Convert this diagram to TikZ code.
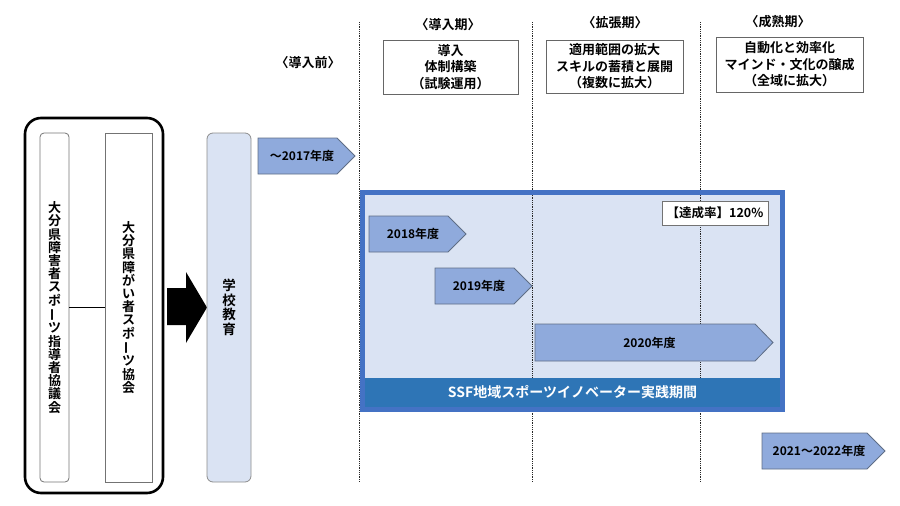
\documentclass[tikz,border=0pt]{standalone}
\usepackage{fontspec}
\setmainfont{Noto Sans CJK JP}[BoldFont={Noto Sans CJK JP Bold}]
\usepackage{graphicx}

\definecolor{barblue}{HTML}{8FAADC}
\definecolor{barline}{HTML}{5F6E86}
\definecolor{paleblue}{HTML}{DAE3F3}
\definecolor{frameblue}{HTML}{4472C4}
\definecolor{bandblue}{HTML}{2E75B6}

\newcommand{\vchoon}{\rotatebox[origin=c]{90}{ー}}
\newcommand{\vfont}{\bfseries\fontsize{13}{13.2}\selectfont}

\tikzset{
  orgbox/.style={draw=black!55, line width=0.8pt, inner sep=0pt, align=center, font=\vfont},
  phasebox/.style={draw=black!60, line width=0.8pt, fill=white, inner sep=0pt, align=center,
    font=\bfseries\fontsize{13}{16.5}\selectfont},
  phaselabel/.style={inner sep=0pt, font=\bfseries\fontsize{13}{15}\selectfont},
  yearbar/.style={draw=barline, fill=barblue, line width=0.8pt},
  yeartext/.style={inner sep=0pt, font=\bfseries\fontsize{12}{14}\selectfont},
  periodline/.style={black!85, line width=0.9pt, dash pattern=on 0.9pt off 0.9pt}
}

% year arrow: name, left, right, top, bottom, text
\newcommand{\yearbar}[6]{%
  \draw[yearbar] (#2,#4) -- (#3-18,#4) -- (#3,{(#4+#5)/2}) -- (#3-18,#5) -- (#2,#5) -- cycle;
  \node[yeartext] (#1) at ({(#2+#3-9)/2},{(#4+#5)/2}) {#6};}

\begin{document}
\begin{tikzpicture}[x=1pt,y=-1pt]
    \useasboundingbox (0,0) rectangle (900,506);

    % Organisations on the left
    \node[draw, line width=2.6pt, rounded corners=16pt, minimum width=138, minimum height=375] (outer) at (94,305.5) {};
    \node[orgbox, rounded corners=4pt, minimum width=29, minimum height=349] (council) at (54.5,307.5)
      {大\\分\\県\\障\\害\\者\\ス\\ポ\\\vchoon\\ツ\\指\\導\\者\\協\\議\\会};
    \node[orgbox, minimum width=47, minimum height=349] (assoc) at (128.5,307.5)
      {大\\分\\県\\障\\が\\い\\者\\ス\\ポ\\\vchoon\\ツ\\協\\会};
    \draw[line width=1.8pt] (council.east) -- (assoc.west);

    % Big arrow into school education
    \fill (167,288) -- (186,288) -- (186,272) -- (207,307.5) -- (186,343) -- (186,325) -- (167,325) -- cycle;
    \node[orgbox, draw=black!45, fill=paleblue, rounded corners=6pt, minimum width=44, minimum height=349,
      font=\bfseries\fontsize{13.5}{14.5}\selectfont] (school) at (229,307.5) {学\\校\\教\\育};

    % Phase headers and boxes
    \node[phaselabel] (pre) at (308,63) {〈導入前〉};
    \node[phaselabel] (intro) at (448,25) {〈導入期〉};
    \node[phaselabel] (expand) at (615,23) {〈拡張期〉};
    \node[phaselabel] (mature) at (778,22) {〈成熟期〉};
    \node[phasebox, minimum width=135, minimum height=54] (introbox) at (450.5,67)
      {導入\\体制構築\\（試験運用）};
    \node[phasebox, minimum width=137, minimum height=53] (expandbox) at (614.5,66.5)
      {適用範囲の拡大\\スキルの蓄積と展開\\（複数に拡大）};
    \node[phasebox, minimum width=147, minimum height=55] (maturebox) at (789.5,64.5)
      {自動化と効率化\\マインド・文化の醸成\\（全域に拡大）};

    % SSF period frame
    \node[fill=paleblue, minimum width=420, minimum height=217, inner sep=0pt] (ssf) at (572.5,301) {};

    % Dotted phase lines
    \foreach \x in {359,532,700}
      \draw[periodline] (\x,22) -- (\x,482);

    % Year arrows
    \yearbar{y2017}{258}{355}{138}{174}{～2017年度}
    \yearbar{y2018}{369}{466}{216}{252}{2018年度}
    \yearbar{y2019}{435}{532}{268}{304}{2019年度}
    \yearbar{y2020}{535}{773}{324}{361}{2020年度}
    \yearbar{y2122}{762}{885}{433}{469}{2021～2022年度}

    \node[draw=black!55, fill=white, line width=0.8pt, minimum width=106, minimum height=24, inner sep=0pt,
      font=\bfseries\fontsize{12.5}{14}\selectfont] (rate) at (715,213) {【達成率】120\%};

    \node[fill=bandblue, text=white, minimum width=415, minimum height=29, inner sep=0pt,
      font=\bfseries\fontsize{14}{16}\selectfont] (band) at (572.5,392.5) {SSF地域スポーツイノベーター実践期間};
    \draw[frameblue, line width=5pt] (ssf.north west) rectangle (ssf.south east);
\end{tikzpicture}
\end{document}
